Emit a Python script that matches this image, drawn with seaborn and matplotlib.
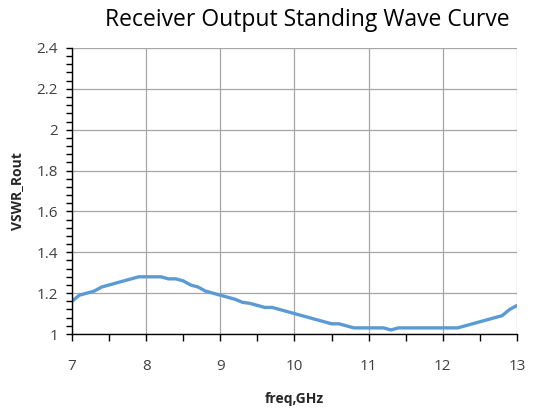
import numpy as np
import pandas as pd
import matplotlib.pyplot as plt
from matplotlib.ticker import MultipleLocator
import seaborn as sns

freq = [7.0, 7.1, 7.2, 7.3, 7.4, 7.5, 7.6, 7.7, 7.8, 7.9,
        8.0, 8.1, 8.2, 8.3, 8.4, 8.5, 8.6, 8.7, 8.8, 8.9,
        9.0, 9.1, 9.2, 9.3, 9.4, 9.5, 9.6, 9.7, 9.8, 9.9,
        10.0, 10.1, 10.2, 10.3, 10.4, 10.5, 10.6, 10.7, 10.8, 10.9,
        11.0, 11.1, 11.2, 11.3, 11.4, 11.5, 11.6, 11.7, 11.8, 11.9,
        12.0, 12.1, 12.2, 12.3, 12.4, 12.5, 12.6, 12.7, 12.8, 12.9, 13.0]
vswr = [1.16, 1.19, 1.20, 1.21, 1.23, 1.24, 1.25, 1.26, 1.27, 1.28,
        1.28, 1.28, 1.28, 1.27, 1.27, 1.26, 1.24, 1.23, 1.21, 1.20,
        1.19, 1.18, 1.17, 1.155, 1.15, 1.14, 1.13, 1.13, 1.12, 1.11,
        1.10, 1.09, 1.08, 1.07, 1.06, 1.05, 1.05, 1.04, 1.03, 1.03,
        1.03, 1.03, 1.03, 1.02, 1.03, 1.03, 1.03, 1.03, 1.03, 1.03,
        1.03, 1.03, 1.03, 1.04, 1.05, 1.06, 1.07, 1.08, 1.09, 1.12, 1.14]

df = pd.DataFrame({"freq": freq, "vswr": vswr})

sns.set_style("white")
plt.rcParams["font.family"] = ["Open Sans", "DejaVu Sans"]

fig = plt.figure(figsize=(5.33, 4.17), dpi=100)
ax = fig.add_axes([0.135, 0.199, 0.835, 0.686])

sns.lineplot(data=df, x="freq", y="vswr", color="#5B9BD5", linewidth=2.4, ax=ax)

ax.set_xlim(7, 13)
ax.set_ylim(1, 2.4)
ax.xaxis.set_major_locator(MultipleLocator(1))
ax.xaxis.set_minor_locator(MultipleLocator(0.5))
ax.yaxis.set_major_locator(MultipleLocator(0.2))
ax.yaxis.set_minor_locator(MultipleLocator(0.04))
ax.yaxis.set_major_formatter(plt.FuncFormatter(lambda v, p: f"{v:g}"))

ax.grid(True, which="major", color="#a6a6a6", linewidth=0.9)
ax.set_axisbelow(True)
for s in ["top", "right"]:
    ax.spines[s].set_visible(False)
ax.spines["left"].set_color("black")
ax.spines["bottom"].set_color("black")
ax.spines["left"].set_linewidth(1.0)
ax.spines["bottom"].set_linewidth(1.0)

ax.tick_params(axis="x", which="both", direction="out", length=5, width=1, color="black",
               bottom=True, pad=13, labelsize=11, labelcolor="#404040")
ax.tick_params(axis="y", which="both", direction="out", length=4, width=1, color="black",
               left=True, pad=6, labelsize=11, labelcolor="#404040")

ax.set_xlabel("freq,GHz", fontsize=10, fontweight="bold", labelpad=13)
ax.set_ylabel("VSWR_Rout", fontsize=10, fontweight="bold", labelpad=9)

fig.text(0.577, 0.952, "Receiver Output Standing Wave Curve", fontsize=16.5,
         ha="center", va="center", color="black")

fig.savefig("out.png", dpi=100)
